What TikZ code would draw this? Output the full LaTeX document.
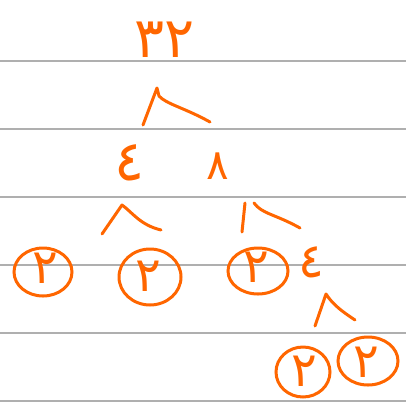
\documentclass[tikz,border=0pt]{standalone}
\usepackage{fontspec}
\newfontfamily\arabicfont[Script=Arabic]{DejaVu Sans}
\usetikzlibrary{shapes.geometric}
\definecolor{pen}{RGB}{255,102,0}
\definecolor{rule}{RGB}{175,175,175}
\tikzset{
  digit/.style={text=pen, inner sep=0pt, font=\arabicfont\fontsize{48}{48}\selectfont},
  bigdigit/.style={digit, font=\arabicfont\fontsize{56}{56}\selectfont},
  smalldigit/.style={digit, font=\arabicfont\fontsize{42}{42}\selectfont},
  stroke/.style={draw=pen, line width=3pt, line cap=round, line join=round},
  ring/.style={ellipse, draw=pen, line width=3pt, inner sep=0pt},
  ruleline/.style={draw=rule, line width=1.1pt}
}
\begin{document}
\begin{tikzpicture}[x=1pt,y=-1pt]
\useasboundingbox (0,0) rectangle (406,405);
% ruled lines
\foreach \yy in {61,129,197,265,333,401}{
  \draw[ruleline] (0,\yy) -- (406,\yy);
}
% top number
\node[bigdigit] (n32) at (165,40) {٣٢};
% branches under 32
\coordinate (a1) at (157,88);
\coordinate (a1l) at (143,125);
\coordinate (a1r) at (210,122);
\draw[stroke] (a1l) -- (a1) -- (159,96) .. controls (166,104) and (185,108) .. (a1r);
% second level
\node[bigdigit] (n4a) at (130,163) {٤};
\node[smalldigit] (n8) at (218,166) {٨};
% branches under left 4
\coordinate (a2) at (122,205);
\coordinate (a2l) at (102,234);
\coordinate (a2r) at (161,230);
\draw[stroke] (a2l) -- (a2) .. controls (132,212) and (140,225) .. (a2r);
% branches under 8
\coordinate (b1t) at (245,203);
\coordinate (b1b) at (242,232);
\coordinate (b2t) at (254,203);
\coordinate (b2b) at (300,228);
\draw[stroke] (b1t) -- (b1b);
\draw[stroke] (b2t) .. controls (262,214) and (275,214) .. (b2b);
% circled 2s, third level
\node[ring, minimum width=58pt, minimum height=48pt] (c1) at (43,272) {};
\node[digit] (d1) at (45,268) {٢};
\node[ring, minimum width=62pt, minimum height=56pt] (c2) at (150,277) {};
\node[digit] (d2) at (148,276) {٢};
\node[ring, minimum width=60pt, minimum height=46pt] (c3) at (258,271) {};
\node[digit] (d3) at (256,267) {٢};
\node[digit] (n4b) at (311,262) {٤};
% branches under right 4
\coordinate (a3) at (326,294);
\coordinate (a3l) at (315,326);
\coordinate (a3r) at (355,320);
\draw[stroke] (a3l) -- (a3) .. controls (333,305) and (343,312) .. (a3r);
% bottom circled 2s
\node[ring, minimum width=54pt, minimum height=50pt] (c4) at (303,372) {};
\node[digit] (d4) at (304,371) {٢};
\node[ring, minimum width=60pt, minimum height=48pt] (c5) at (368,361) {};
\node[digit] (d5) at (366,362) {٢};
\end{tikzpicture}
\end{document}
